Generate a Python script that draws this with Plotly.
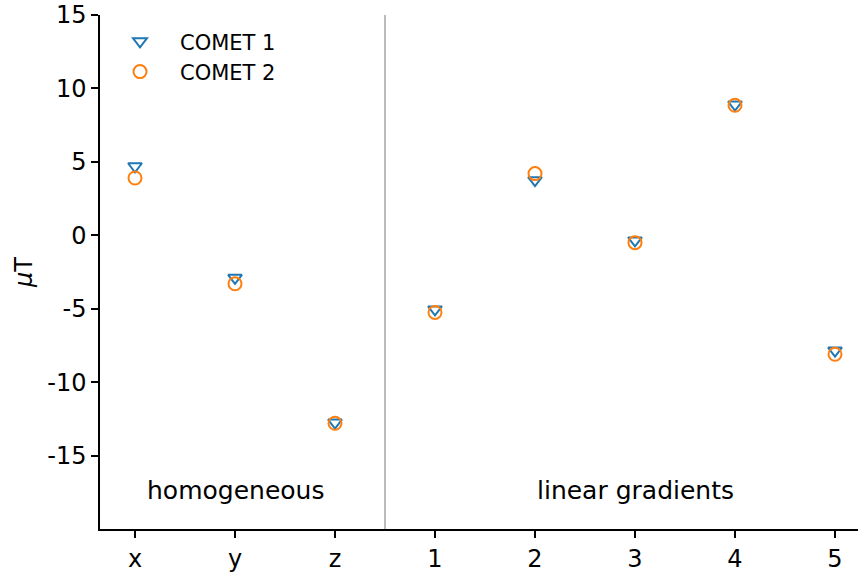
import plotly.graph_objects as go

# Field components / gradient terms on the horizontal axis
categories = ["x", "y", "z", "1", "2", "3", "4", "5"]

# Fitted values in microtesla for the two instruments
comet1 = [4.7, -2.9, -12.75, -5.05, 3.75, -0.35, 8.9, -7.85]
comet2 = [3.9, -3.3, -12.8, -5.25, 4.2, -0.5, 8.85, -8.1]

y_ticks = [15, 10, 5, 0, -5, -10, -15]
y_ticktext = [str(v) for v in y_ticks]

group_labels = [("homogeneous", "y"), ("linear gradients", "3")]
label_level = -17.4
divider_at = 2.5

FONT = "DejaVu Sans"

fig = go.Figure()
fig.add_trace(go.Scatter(
    x=categories, y=comet1, mode="markers", name="COMET 1",
    marker=dict(symbol="triangle-down-open", size=12, color="#1f77b4",
                line=dict(width=2, color="#1f77b4")),
))
fig.add_trace(go.Scatter(
    x=categories, y=comet2, mode="markers", name="COMET 2",
    marker=dict(symbol="circle-open", size=13, color="#ff7f0e",
                line=dict(width=2, color="#ff7f0e")),
))

# Divider between homogeneous terms and gradient terms
fig.add_shape(type="line", xref="x", yref="paper",
              x0=divider_at, x1=divider_at, y0=0, y1=1,
              line=dict(color="#777777", width=1))

# Group captions, placed at the serial position of their centre category
for text, cat in group_labels:
    fig.add_annotation(x=categories.index(cat), y=label_level, xref="x", yref="y",
                       text=text, showarrow=False,
                       font=dict(family=FONT, size=25, color="black"))

fig.update_layout(
    width=858, height=573,
    margin=dict(l=100, r=0, t=15, b=42),
    plot_bgcolor="white", paper_bgcolor="white",
    font=dict(family=FONT, size=24, color="black"),
    showlegend=True,
    legend=dict(x=0.0, y=0.988, xanchor="left", yanchor="top",
                itemwidth=70,
                font=dict(family=FONT, size=21, color="black"),
                bgcolor="rgba(0,0,0,0)", borderwidth=0),
    xaxis=dict(type="category", categoryorder="array", categoryarray=categories,
               range=[-0.35, 7.23], showline=True, linecolor="black", linewidth=1.5,
               ticks="outside", ticklen=7, tickwidth=1.5, tickcolor="black",
               showgrid=False, zeroline=False,
               tickfont=dict(family=FONT, size=24, color="black")),
    yaxis=dict(range=[-20, 15], showline=True, linecolor="black", linewidth=1.5,
               ticks="outside", ticklen=7, tickwidth=1.5, tickcolor="black",
               tickvals=y_ticks, ticktext=y_ticktext,
               showgrid=False, zeroline=False,
               tickfont=dict(family=FONT, size=24, color="black"),
               title=dict(text="<i>μ</i>T", font=dict(family=FONT, size=24), standoff=8)),
)

fig.write_html("out.html")
